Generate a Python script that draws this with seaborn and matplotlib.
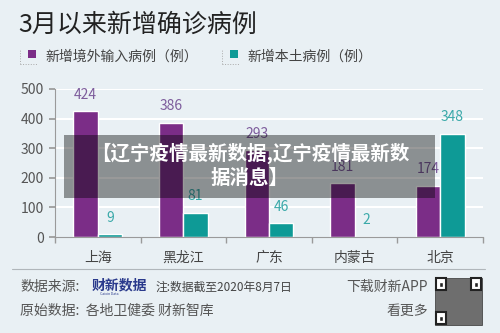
import matplotlib
matplotlib.use("Agg")
import matplotlib.pyplot as plt
import matplotlib.patches as mpatches
import seaborn as sns
import pandas as pd

# 数据
provinces = ['上海', '黑龙江', '广东', '内蒙古', '北京']
imported = [424, 386, 293, 181, 174]
local = [9, 81, 46, 2, 348]
series_names = ['新增境外输入病例（例）', '新增本土病例（例）']
y_ticks = [0, 100, 200, 300, 400, 500]

BG = '#e9f0f4'
PURPLE = '#7b2d87'
TEAL = '#0e9a96'
PURPLE_TXT = '#7d5c9c'
TEAL_TXT = '#3aa9a9'
GRAY_TXT = '#555555'

sns.set_theme(style='white')
plt.rcParams['font.family'] = ['Noto Sans CJK SC', 'DejaVu Sans']

df = pd.DataFrame({
    'province': provinces * 2,
    'count': imported + local,
    'type': [series_names[0]] * len(provinces) + [series_names[1]] * len(provinces),
})

fig = plt.figure(figsize=(5, 3.33), dpi=100, facecolor=BG)
ax = fig.add_axes([0.11, 0.288, 0.856, 0.445])
ax.set_facecolor(BG)

sns.barplot(data=df, x='province', y='count', hue='type',
            palette=[PURPLE, TEAL], width=0.57, gap=0, dodge=True,
            saturation=1, legend=False, ax=ax)

ax.set_ylim(0, 500)
ax.set_xlim(-0.5, 4.5)
ax.set_yticks(y_ticks)
ax.set_yticklabels([str(t) for t in y_ticks], fontsize=10, color=GRAY_TXT)
ax.set_xticks(range(len(provinces)))
ax.set_xticklabels(provinces, fontsize=10, color='#444444')
ax.set_xlabel('')
ax.set_ylabel('')
for t in y_ticks[1:]:
    ax.axhline(t, color='white', lw=1.5, zorder=0)

for s in ['top', 'right']:
    ax.spines[s].set_visible(False)
for s in ['left', 'bottom']:
    ax.spines[s].set_color('#9a9a9a')
    ax.spines[s].set_linewidth(0.8)
ax.tick_params(axis='y', left=True, length=4, color='#9a9a9a', pad=4)
ax.tick_params(axis='x', bottom=False, length=0, pad=10)
ax.set_xticks([i - 0.5 for i in range(len(provinces) + 1)], minor=True)
ax.tick_params(axis='x', which='minor', bottom=True, length=4, color='#9a9a9a')

ax.bar_label(ax.containers[0], padding=7, fontsize=10, color=PURPLE_TXT)
ax.bar_label(ax.containers[1], padding=7, fontsize=10, color=TEAL_TXT)

# 标题与图例
fig.text(0.036, 0.925, '3月以来新增确诊病例', fontsize=18, color='#222222', va='center')
legend_items = [(0.056, PURPLE, series_names[0]), (0.46, TEAL, series_names[1])]
for x0, c, name in legend_items:
    fig.patches.append(mpatches.Rectangle((x0, 0.826), 0.016, 0.024, transform=fig.transFigure,
                                          facecolor=c, edgecolor='none'))
    fig.lines.append(plt.Line2D([x0 - 0.016, x0 - 0.016], [0.808, 0.85], transform=fig.transFigure,
                                color='#aaaaaa', lw=0.7, ls=':'))
    fig.lines.append(plt.Line2D([x0 - 0.016, x0 + 0.02], [0.808, 0.808], transform=fig.transFigure,
                                color='#aaaaaa', lw=0.7, ls=':'))
    fig.text(x0 + 0.034, 0.83, name, fontsize=10, color='#444444', va='center')

# 底部信息
fig.lines.append(plt.Line2D([0.024, 0.97], [0.192, 0.192], transform=fig.transFigure,
                            color='#b0b6ba', lw=0.8))
fig.text(0.04, 0.138, '数据来源:', fontsize=10, color=GRAY_TXT, va='center')
fig.text(0.184, 0.142, '财新数据', fontsize=10, color='#2a3a8c', va='center', weight='bold')
fig.text(0.20, 0.116, 'Caixin Data', fontsize=2.5, color='#2a3a8c', va='center')
fig.text(0.31, 0.138, '注:数据截至2020年8月7日', fontsize=8.5, color='#444444', va='center')
fig.text(0.856, 0.138, '下载财新APP', fontsize=10, color=GRAY_TXT, va='center', ha='right')
fig.text(0.04, 0.066, '原始数据:  各地卫健委 财新智库', fontsize=10, color=GRAY_TXT, va='center')
fig.text(0.856, 0.066, '看更多', fontsize=10, color=GRAY_TXT, va='center', ha='right')

# 二维码占位
fig.patches.append(mpatches.Rectangle((0.87, 0.024), 0.094, 0.142, transform=fig.transFigure,
                                      facecolor='#6e6e6e', edgecolor='#333333', lw=0.5))
for fx, fy in [(0.872, 0.128), (0.942, 0.128), (0.872, 0.026)]:
    fig.patches.append(mpatches.Rectangle((fx, fy), 0.02, 0.036, transform=fig.transFigure,
                                          facecolor='white', edgecolor='#222222', lw=1.5))
    fig.patches.append(mpatches.Rectangle((fx + 0.006, fy + 0.01), 0.008, 0.016,
                                          transform=fig.transFigure, facecolor='#222222'))

# 遮罩横幅
fig.patches.append(mpatches.Rectangle((0.128, 0.405), 0.742, 0.19, transform=fig.transFigure,
                                      facecolor='black', alpha=0.4, edgecolor='none', zorder=5))
fig.text(0.5, 0.54, '【辽宁疫情最新数据,辽宁疫情最新数', fontsize=14, color='white',
         weight='bold', ha='center', va='center', zorder=6)
fig.text(0.5, 0.465, '据消息】', fontsize=14, color='white',
         weight='bold', ha='center', va='center', zorder=6)

fig.savefig('out.png', dpi=100, facecolor=BG)
